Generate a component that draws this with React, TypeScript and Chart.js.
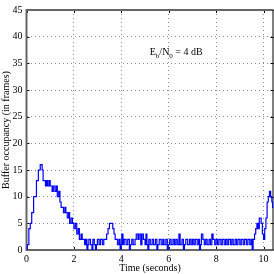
import React, { useEffect, useRef } from "react";
import { Chart, registerables } from "chart.js";

Chart.register(...registerables);

// Change points of the step trace (time in seconds, buffer level in frames)
const stepTimes = [
  0, 0.03, 0.1, 0.16, 0.22, 0.3, 0.42, 0.5, 0.58, 0.66, 0.7, 0.8, 0.85, 0.9, 0.96, 1.0,
  1.08, 1.13, 1.2, 1.26, 1.3, 1.36, 1.41, 1.46, 1.56, 1.62, 1.66, 1.72, 1.78, 1.82, 1.88, 1.94,
  2.0, 2.06, 2.12, 2.18, 2.23, 2.3, 2.35, 2.45, 2.5, 2.55, 2.59, 2.63, 2.7, 2.76, 2.8, 2.86,
  2.91, 2.95, 2.99, 3.06, 3.12, 3.2, 3.26, 3.38, 3.44, 3.5, 3.64, 3.69, 3.74, 3.84, 3.9, 3.95,
  3.99, 4.02, 4.07, 4.12, 4.2, 4.27, 4.34, 4.38, 4.44, 4.5, 4.58, 4.63, 4.7, 4.75, 4.82, 4.87,
  4.93, 5.0, 5.04, 5.08, 5.12, 5.16, 5.22, 5.3, 5.36, 5.44, 5.5, 5.54, 5.6, 5.68, 5.75, 5.8,
  5.88, 5.94, 5.98, 6.04, 6.1, 6.18, 6.24, 6.3, 6.36, 6.43, 6.48, 6.56, 6.62, 6.66, 6.72, 6.8,
  6.88, 6.94, 7.0, 7.06, 7.12, 7.2, 7.26, 7.3, 7.34, 7.38, 7.44, 7.5, 7.56, 7.62, 7.7, 7.76,
  7.82, 7.87, 7.94, 8.0, 8.06, 8.12, 8.2, 8.26, 8.34, 8.4, 8.46, 8.52, 8.6, 8.66, 8.72, 8.8,
  8.86, 8.92, 9.0, 9.06, 9.14, 9.2, 9.28, 9.34, 9.42, 9.48, 9.52, 9.56, 9.62, 9.67, 9.72, 9.77,
  9.82, 9.9, 9.95, 10.0, 10.05, 10.1, 10.15, 10.2, 10.25, 10.3, 10.35, 10.38,
];
const stepLevels = [
  0, 1, 4, 5, 7, 10, 13, 15, 16, 15, 13, 12, 13, 12, 13, 12,
  11, 12, 11, 12, 10, 11, 9, 8, 7, 8, 7, 6, 7, 5, 6, 5,
  4, 5, 3, 4, 2, 3, 2, 1, 2, 0, 1, 2, 1, 0, 2, 1,
  0, 1, 2, 1, 2, 1, 2, 3, 4, 5, 4, 3, 2, 1, 2, 0,
  1, 3, 1, 2, 1, 2, 0, 1, 2, 1, 2, 3, 2, 3, 1, 3,
  2, 1, 3, 1, 0, 2, 1, 2, 1, 2, 0, 1, 2, 1, 2, 1,
  2, 0, 1, 2, 1, 2, 1, 2, 1, 3, 1, 2, 0, 1, 2, 1,
  2, 1, 2, 1, 2, 1, 2, 0, 1, 3, 2, 1, 2, 1, 2, 1,
  3, 2, 1, 2, 1, 2, 1, 2, 1, 2, 1, 2, 1, 2, 1, 2,
  1, 2, 1, 2, 1, 2, 1, 2, 1, 2, 0, 2, 3, 4, 5, 4,
  6, 5, 3, 2, 4, 6, 9, 10, 11, 10, 9, 8,
];

const X_MIN = 0;
const X_MAX = 10.42;
const Y_MIN = 0;
const Y_MAX = 45;
const xTicks = [0, 2, 4, 6, 8, 10];
const yTicks = [0, 5, 10, 15, 20, 25, 30, 35, 40, 45];
const xTitle = "Time (seconds)";
const yTitle = "Buffer occupancy (in frames)";
const noteAt = { x: 5.2, y: 36.6 };

const FONT = "'Liberation Serif', 'Times New Roman', serif";

const framePlugin = {
  id: "matlabFrame",
  beforeDatasetsDraw(chart: any) {
    const { ctx, chartArea: a, scales } = chart;
    ctx.save();
    ctx.strokeStyle = "#000";
    ctx.lineWidth = 1;
    ctx.beginPath();
    for (const v of xTicks) {
      const px = Math.round(scales.x.getPixelForValue(v)) + 0.5;
      ctx.moveTo(px, a.bottom);
      ctx.lineTo(px, a.bottom - 3);
      ctx.moveTo(px, a.top);
      ctx.lineTo(px, a.top + 3);
    }
    for (const v of yTicks) {
      const py = Math.round(scales.y.getPixelForValue(v)) + 0.5;
      ctx.moveTo(a.left, py);
      ctx.lineTo(a.left + 3, py);
      ctx.moveTo(a.right, py);
      ctx.lineTo(a.right - 3, py);
    }
    ctx.stroke();
    ctx.strokeStyle = "#666";
    ctx.lineWidth = 2;
    ctx.beginPath();
    ctx.moveTo(a.right, a.top);
    ctx.lineTo(a.left, a.top);
    ctx.lineTo(a.left, a.bottom);
    ctx.lineTo(a.right, a.bottom);
    ctx.stroke();
    ctx.strokeStyle = "#000";
    ctx.lineWidth = 1;
    ctx.beginPath();
    ctx.moveTo(a.right - 0.5, a.top);
    ctx.lineTo(a.right - 0.5, a.bottom);
    ctx.stroke();
    ctx.restore();
  },
  afterDraw(chart: any) {
    const { ctx, scales } = chart;
    let x = scales.x.getPixelForValue(noteAt.x);
    const y = scales.y.getPixelForValue(noteAt.y);
    ctx.save();
    ctx.fillStyle = "#000";
    ctx.textBaseline = "alphabetic";
    ctx.textAlign = "left";
    const big = `10px ${FONT}`;
    const small = `7px ${FONT}`;
    const parts: [string, boolean][] = [
      ["E", false],
      ["b", true],
      ["/N", false],
      ["0", true],
      [" = 4 dB", false],
    ];
    for (const [t, sub] of parts) {
      ctx.font = sub ? small : big;
      ctx.fillText(t, x, sub ? y + 3.5 : y);
      x += ctx.measureText(t).width;
    }
    ctx.restore();
  },
};

export default function App() {
  const ref = useRef<HTMLCanvasElement | null>(null);
  useEffect(() => {
    document.body.style.margin = "0";
    const canvas = ref.current;
    if (!canvas) return;
    const pts = stepTimes.map((t, i) => ({ x: t, y: stepLevels[i] }));
    pts.push({ x: X_MAX, y: stepLevels[stepLevels.length - 1] });
    const tickFont = { family: FONT, size: 10 };
    const chart = new Chart(canvas, {
      type: "line",
      data: {
        datasets: [
          {
            data: pts,
            borderColor: "#0000ff",
            borderWidth: 1.2,
            pointRadius: 0,
            stepped: true,
            fill: false,
          },
        ],
      },
      options: {
        animation: false,
        responsive: false,
        devicePixelRatio: 1,
        layout: { padding: { top: 5, right: 0.5, left: 0, bottom: 0 } },
        plugins: { legend: { display: false }, tooltip: { enabled: false } },
        scales: {
          x: {
            type: "linear",
            min: X_MIN,
            max: X_MAX,
            afterBuildTicks: (s: any) => {
              s.ticks = xTicks.map((v) => ({ value: v }));
            },
            afterFit: (s: any) => {
              s.height = 24;
            },
            ticks: { font: tickFont, color: "#000", padding: 3, maxRotation: 0, autoSkip: false },
            grid: { color: "#8a8a8a", lineWidth: 1, drawTicks: false },
            border: { display: false, dash: [1, 3] },
            title: { display: true, text: xTitle, font: tickFont, color: "#000", padding: { top: 0, bottom: 0 } },
          },
          y: {
            type: "linear",
            min: Y_MIN,
            max: Y_MAX,
            afterBuildTicks: (s: any) => {
              s.ticks = yTicks.map((v) => ({ value: v }));
            },
            afterFit: (s: any) => {
              s.width = 26.5;
            },
            ticks: { font: tickFont, color: "#000", padding: 4, autoSkip: false },
            grid: { color: "#8a8a8a", lineWidth: 1, drawTicks: false },
            border: { display: false, dash: [1, 3] },
            title: { display: true, text: yTitle, font: tickFont, color: "#000", padding: { top: 0, bottom: 0 } },
          },
        },
      },
      plugins: [framePlugin],
    });
    return () => chart.destroy();
  }, []);
  return (
    <div style={{ position: "fixed", left: 0, top: 0, width: 274, height: 274, background: "#fff" }}>
      <canvas ref={ref} width={274} height={274} />
    </div>
  );
}
